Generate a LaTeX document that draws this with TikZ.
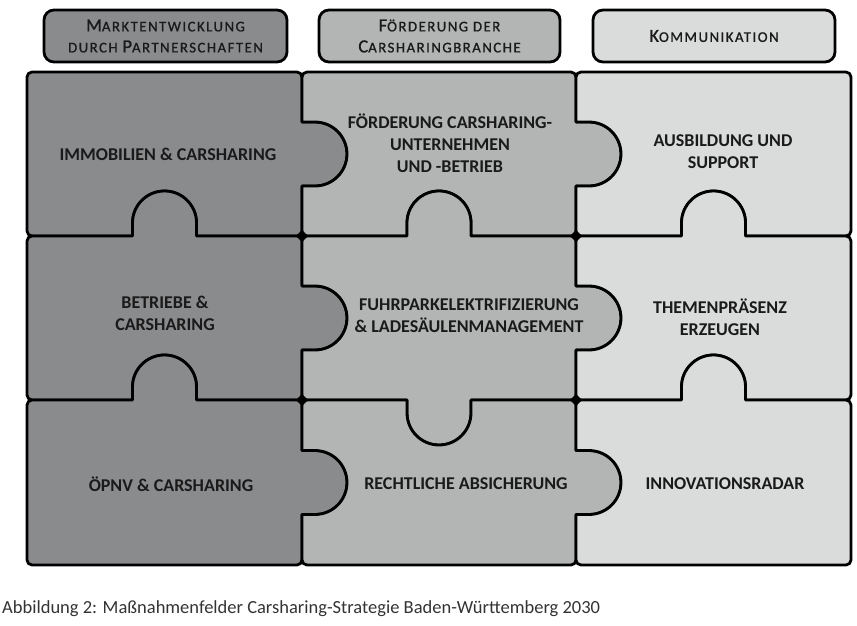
\documentclass[tikz,border=0pt]{standalone}
\usepackage{fontspec}
\setmainfont{Carlito}
\newfontfamily\hdrfont[LetterSpace=10,FakeBold=1]{Carlito}
\def\pzR{32}
\def\pzS{13}
\def\pc{5}
% horizontal edge, travel left->right
\newcommand{\tabHup}[2]{ -- ({#1-\pzR},{-#2}) -- ({#1-\pzR},{-#2+\pzS}) arc[start angle=180,end angle=0,radius=\pzR] -- ({#1+\pzR},{-#2}) }
\newcommand{\tabHdn}[2]{ -- ({#1-\pzR},{-#2}) -- ({#1-\pzR},{-#2-\pzS}) arc[start angle=180,end angle=360,radius=\pzR] -- ({#1+\pzR},{-#2}) }
% horizontal edge, travel right->left
\newcommand{\tabHupRL}[2]{ -- ({#1+\pzR},{-#2}) -- ({#1+\pzR},{-#2+\pzS}) arc[start angle=0,end angle=180,radius=\pzR] -- ({#1-\pzR},{-#2}) }
\newcommand{\tabHdnRL}[2]{ -- ({#1+\pzR},{-#2}) -- ({#1+\pzR},{-#2-\pzS}) arc[start angle=0,end angle=-180,radius=\pzR] -- ({#1-\pzR},{-#2}) }
% vertical edge, travel down, bulge right
\newcommand{\tabVrD}[2]{ -- ({#1},{-#2+\pzR}) -- ({#1+\pzS},{-#2+\pzR}) arc[start angle=90,end angle=-90,radius=\pzR] -- ({#1},{-#2-\pzR}) }
% vertical edge, travel up, bulge right
\newcommand{\tabVrU}[2]{ -- ({#1},{-#2-\pzR}) -- ({#1+\pzS},{-#2-\pzR}) arc[start angle=-90,end angle=90,radius=\pzR] -- ({#1},{-#2+\pzR}) }
\newcommand{\piece}[9]{%
\draw[pz, fill=#1] ({#2+\pc},{-#3}) #6 -- ({#4-\pc},{-#3}) arc[start angle=90,end angle=0,radius=\pc]
 #7 -- (#4,{-#5+\pc}) arc[start angle=0,end angle=-90,radius=\pc]
 #8 -- ({#2+\pc},{-#5}) arc[start angle=270,end angle=180,radius=\pc]
 #9 -- (#2,{-#3-\pc}) arc[start angle=180,end angle=90,radius=\pc] -- cycle;}
\newcommand{\hsc}[2]{{\fontsize{18.5}{21}\selectfont #1}{\fontsize{14.8}{21}\selectfont #2}}
\definecolor{cone}{RGB}{138,139,141}
\definecolor{ctwo}{RGB}{179,180,180}
\definecolor{cthree}{RGB}{218,219,219}
\definecolor{txt}{RGB}{26,26,26}
\definecolor{captxt}{RGB}{51,51,51}
\begin{document}
\begin{tikzpicture}[x=1pt,y=1pt,
  pz/.style={line width=2.8pt, draw=black, line join=round},
  hbox/.style={draw=black, line width=2.8pt, rounded corners=10pt},
  htext/.style={text=txt, align=center, font=\hdrfont\fontsize{15}{21}\selectfont},
  btext/.style={text=txt, align=center, font=\bfseries\fontsize{18}{22}\selectfont}]
\useasboundingbox (0,0) rectangle (857,-625);
% header boxes
\draw[hbox, fill=cone] (44,-10) rectangle (287,-62);
\draw[hbox, fill=ctwo] (319,-10) rectangle (560,-62);
\draw[hbox, fill=cthree] (593,-10) rectangle (835,-62);
\node[htext] (h1) at (165.5,-36) {\hsc{M}{ARKTENTWICKLUNG}\\\hsc{}{DURCH }\hsc{P}{ARTNERSCHAFTEN}};
\node[htext] (h2) at (439.5,-36) {\hsc{F}{ÖRDERUNG DER}\\\hsc{C}{ARSHARINGBRANCHE}};
\node[htext] (h3) at (714,-36) {\hsc{K}{OMMUNIKATION}};
% puzzle pieces
\piece{cone}{27}{72}{302}{236}{}{\tabVrD{302}{154}}{\tabHupRL{164.5}{236}}{}
\piece{ctwo}{302}{72}{576}{236}{}{\tabVrD{576}{154}}{\tabHupRL{439}{236}}{\tabVrU{302}{154}}
\piece{cthree}{576}{72}{851}{236}{}{}{\tabHupRL{713.5}{236}}{\tabVrU{576}{154}}
\piece{cone}{27}{236}{302}{400}{\tabHup{164.5}{236}}{\tabVrD{302}{318}}{\tabHupRL{164.5}{400}}{}
\piece{ctwo}{302}{236}{576}{400}{\tabHup{439}{236}}{\tabVrD{576}{318}}{\tabHdnRL{439}{400}}{\tabVrU{302}{318}}
\piece{cthree}{576}{236}{851}{400}{\tabHup{713.5}{236}}{}{\tabHupRL{713.5}{400}}{\tabVrU{576}{318}}
\piece{cone}{27}{400}{302}{565}{\tabHup{164.5}{400}}{\tabVrD{302}{482.5}}{}{}
\piece{ctwo}{302}{400}{576}{565}{\tabHdn{439}{400}}{\tabVrD{576}{482.5}}{}{\tabVrU{302}{482.5}}
\piece{cthree}{576}{400}{851}{565}{\tabHup{713.5}{400}}{}{}{\tabVrU{576}{482.5}}
% junction dots
\foreach \jx/\jy in {302/236,576/236,302/400,576/400}
  \fill[black] (\jx,-\jy) circle[radius=4.5];
% texts
\node[btext] (t11) at (168,-154) {IMMOBILIEN \& CARSHARING};
\node[btext] (t12) at (450,-143) {FÖRDERUNG CARSHARING-\\UNTERNEHMEN\\UND -BETRIEB};
\node[btext] (t13) at (723,-152) {AUSBILDUNG UND\\SUPPORT};
\node[btext] (t21) at (165,-313) {BETRIEBE \&\\CARSHARING};
\node[btext] (t22) at (469,-316) {FUHRPARKELEKTRIFIZIERUNG\\\& LADESÄULENMANAGEMENT};
\node[btext] (t23) at (720,-317) {THEMENPRÄSENZ\\ERZEUGEN};
\node[btext] (t31) at (171,-484) {ÖPNV \& CARSHARING};
\node[btext] (t32) at (466,-484) {RECHTLICHE ABSICHERUNG};
\node[btext] (t33) at (725,-484) {INNOVATIONSRADAR};
% caption
\node[anchor=west, text=captxt, font=\fontsize{18.5}{22}\selectfont, inner sep=0pt] (cap) at (2,-609) {Abbildung 2: Maßnahmenfelder Carsharing-Strategie Baden-Württemberg 2030};
\end{tikzpicture}
\end{document}
